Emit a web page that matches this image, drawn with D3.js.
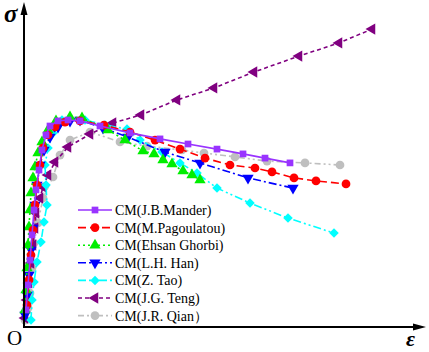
<!DOCTYPE html>
<html>
<head>
<meta charset="utf-8">
<script src="https://cdn.jsdelivr.net/npm/d3@7"></script>
<style>
  body { margin: 0; background: #fff; }
  svg { display: block; }
</style>
</head>
<body>
<div id="chart"></div>
<script>
// Constitutive model curves (strain x10^-3, relative stress)
const manderData = [[0.2,5.7],[0.4,14],[0.6,22.3],[0.8,30.7],[1.0,39],[1.2,45.7],[1.5,52.3],[1.8,59],[2.2,64],[2.6,67],[3.4,68.7],[4.4,69],[5.6,68.7],[7.6,67],[10.6,64.7],[13.6,62.7],[16.4,61],[19.3,59.3],[21.9,57.7],[24.1,56.3],[26.6,54.7]];
const pagoulatouData = [[0.3,7.3],[0.5,15.7],[0.7,24],[0.9,32.3],[1.1,40.7],[1.3,47.3],[1.6,54],[1.9,59.7],[2.4,64],[3.1,66.7],[4.1,68.3],[5.6,68.7],[8.0,67.3],[10.6,65],[13.1,62.3],[15.6,59.3],[18.1,56.3],[20.6,54],[23.1,53],[24.8,51.7],[27.0,49.7],[29.2,48.7],[32.2,47.7]];
const ghorbiData = [[0.1,5.7],[0.2,12.3],[0.3,19.7],[0.4,27.3],[0.5,33.3],[0.6,39],[0.7,44.7],[0.9,49.7],[1.1,53.3],[1.4,58],[1.8,61.7],[2.4,65.7],[3.2,68.7],[4.6,70],[5.8,69.7],[8.4,65.7],[10.1,62.3],[11.9,58.7],[13.0,57.7],[13.9,55.7],[14.8,54.3],[15.9,52],[16.8,50.7],[17.6,49]];
const hanData = [[0.1,4],[0.3,10.7],[0.5,17.3],[0.7,25.7],[0.9,33],[1.1,40.7],[1.3,47.3],[1.6,54],[2.0,59],[2.6,63.3],[3.4,66.7],[4.6,68.7],[5.6,69],[7.9,66.3],[10.4,63.3],[14.1,58.3],[17.6,54.7],[22.4,49.7],[26.9,46.3]];
const taoData = [[0.7,2.3],[0.8,9],[1.0,15],[1.3,21.7],[1.7,28.3],[2.0,35],[2.3,40.7],[2.2,47.3],[2.1,54],[2.4,59.7],[2.9,64.7],[3.8,69],[6.1,69],[8.1,67.3],[10.3,66],[11.6,62.3],[13.8,58.3],[15.6,54.7],[17.3,51.3],[19.3,46.3],[22.6,41.3],[26.4,36.3],[31.0,31.3]];
const tengData = [[0.1,3],[0.3,9],[0.5,14.7],[0.7,21.3],[0.9,27.3],[1.1,33],[1.2,38],[1.6,43],[1.9,46.7],[2.4,50.7],[3.1,55],[4.4,60],[6.6,64.3],[8.9,68],[11.7,70.7],[15.3,75.7],[19.0,79.7],[23.0,85],[27.5,90.3],[31.5,94.7],[34.8,99.3]];
const qianData = [[0.1,2.3],[0.4,6.3],[0.6,11.3],[0.8,19.7],[1.0,28],[1.4,34.7],[1.9,43],[2.9,50],[3.6,57.3],[4.6,62.3],[6.6,65],[9.6,61.7],[12.3,60.3],[15.8,59],[18.0,58],[21.1,56.7],[24.3,55.3],[28.1,54.7],[31.6,54]];

const seriesNames = ["CM(J.B.Mander)", "CM(M.Pagoulatou)", "CM(Ehsan Ghorbi)", "CM(L.H. Han)", "CM(Z. Tao)", "CM(J.G. Teng)", "CM(J.R. Qian\uff09"];
const seriesData = [manderData, pagoulatouData, ghorbiData, hanData, taoData, tengData, qianData];

// styling for each model
const styles = [
    { color: "#9933ff", dash: null,             symbol: d3.symbolSquare,   size: 45, rotate: 0 },
    { color: "#ff0000", dash: "8,4",            symbol: d3.symbolCircle,   size: 60, rotate: 0 },
    { color: "#00ee00", dash: "2,3",            symbol: d3.symbolTriangle, size: 55, rotate: 0 },
    { color: "#0000ff", dash: "8,3,2,3",        symbol: d3.symbolTriangle, size: 55, rotate: 180 },
    { color: "#00ffff", dash: "8,3,2,3,2,3",    symbol: d3.symbolSquare,   size: 45, rotate: 45 },
    { color: "#800080", dash: "4,3",            symbol: d3.symbolTriangle, size: 55, rotate: -90 },
    { color: "#bfbfbf", dash: "6,3,2,3,2,3",    symbol: d3.symbolCircle,   size: 60, rotate: 0 }
];

const width = 429, height = 352;
const origin = { x: 24, y: 327 };

const svg = d3.select("#chart")
    .append("svg")
    .attr("width", width)
    .attr("height", height);

// scales
const xScale = d3.scaleLinear().domain([0, 40]).range([origin.x, origin.x + 400]);
const yScale = d3.scaleLinear().domain([0, 108]).range([origin.y, origin.y - 324]);

const line = d3.line()
    .x(d => xScale(d[0]))
    .y(d => yScale(d[1]));

// draw curves, last legend entry first so Mander ends up on top
d3.range(seriesData.length).reverse().forEach(i => {
    const st = styles[i];
    const g = svg.append("g");
    g.append("path")
        .datum(seriesData[i])
        .attr("d", line)
        .attr("fill", "none")
        .attr("stroke", st.color)
        .attr("stroke-width", 1.6)
        .attr("stroke-dasharray", st.dash);
    g.selectAll("path.mk")
        .data(seriesData[i])
        .enter().append("path")
        .attr("class", "mk")
        .attr("d", d3.symbol().type(st.symbol).size(st.size))
        .attr("transform", d => "translate(" + xScale(d[0]) + "," + yScale(d[1]) + ") rotate(" + st.rotate + ")")
        .attr("fill", st.color);
});

// axes with arrows
svg.append("line")
    .attr("x1", origin.x).attr("y1", origin.y)
    .attr("x2", origin.x).attr("y2", 10)
    .attr("stroke", "#000").attr("stroke-width", 2);
svg.append("path")
    .attr("d", "M" + origin.x + ",2 L" + (origin.x - 3.5) + ",15 L" + (origin.x + 3.5) + ",15 Z")
    .attr("fill", "#000");
svg.append("line")
    .attr("x1", origin.x - 1).attr("y1", origin.y)
    .attr("x2", 418).attr("y2", origin.y)
    .attr("stroke", "#000").attr("stroke-width", 2);
svg.append("path")
    .attr("d", "M426," + origin.y + " L413," + (origin.y - 3.5) + " L413," + (origin.y + 3.5) + " Z")
    .attr("fill", "#000");

// axis labels
svg.append("text")
    .attr("x", 4).attr("y", 22)
    .style("font-family", "Liberation Serif")
    .style("font-style", "italic")
    .style("font-weight", "bold")
    .style("font-size", "25px")
    .text("\u03c3");
svg.append("text")
    .attr("x", 406).attr("y", 346)
    .style("font-family", "Liberation Serif")
    .style("font-style", "italic")
    .style("font-weight", "bold")
    .style("font-size", "22px")
    .text("\u03b5");
svg.append("text")
    .attr("x", 7).attr("y", 345)
    .style("font-family", "Liberation Serif")
    .style("font-size", "21px")
    .text("O");

// legend
const legend = svg.append("g");
seriesNames.forEach((name, i) => {
    const st = styles[i];
    const y = 210 + i * 17.6;
    legend.append("line")
        .attr("x1", 78).attr("x2", 112)
        .attr("y1", y).attr("y2", y)
        .attr("stroke", st.color)
        .attr("stroke-width", 1.6)
        .attr("stroke-dasharray", st.dash);
    legend.append("path")
        .attr("d", d3.symbol().type(st.symbol).size(st.size))
        .attr("transform", "translate(95," + y + ") rotate(" + st.rotate + ")")
        .attr("fill", st.color);
    legend.append("text")
        .attr("x", 115).attr("y", y + 5)
        .style("font-family", "Liberation Serif")
        .style("font-size", "14px")
        .style("fill", "#000")
        .text(name);
});
</script>
</body>
</html>
